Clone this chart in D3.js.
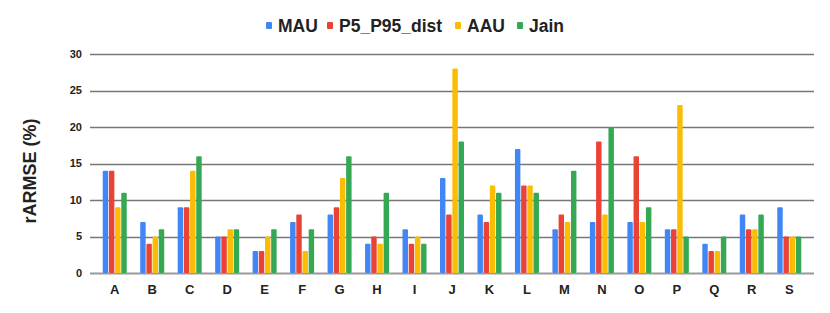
<!DOCTYPE html>
<html>
<head>
<meta charset="utf-8">
<script src="https://cdn.jsdelivr.net/npm/d3@7.9.0/dist/d3.min.js"></script>
<style>
  body { margin: 0; background: #fff; }
  svg { display: block; font-family: "Liberation Sans", Arial, sans-serif; }
</style>
</head>
<body>
<svg id="chart" width="830" height="313"></svg>
<script>
// data
const categories = ["A","B","C","D","E","F","G","H","I","J","K","L","M","N","O","P","Q","R","S"];
const seriesNames = ["MAU", "P5_P95_dist", "AAU", "Jain"];
const mau   = [14, 7, 9, 5, 3, 7, 8, 4, 6, 13, 8, 17, 6, 7, 7, 6, 4, 8, 9];
const p5p95 = [14, 4, 9, 5, 3, 8, 9, 5, 4, 8, 7, 12, 8, 18, 16, 6, 3, 6, 5];
const aau   = [9, 5, 14, 6, 5, 3, 13, 4, 5, 28, 12, 12, 7, 8, 7, 23, 3, 6, 5];
const jain  = [11, 6, 16, 6, 6, 6, 16, 11, 4, 18, 11, 11, 14, 20, 9, 5, 5, 8, 5];
const yTicks = [0, 5, 10, 15, 20, 25, 30];
const colors = ["#4285F4", "#EA4335", "#FBBC04", "#34A853"];

const allSeries = [mau, p5p95, aau, jain];
const rows = categories.map((c, i) => ({ cat: c, vals: allSeries.map(s => s[i]) }));

const svg = d3.select("#chart");

const x0 = d3.scaleBand().domain(categories).range([96, 808]);
const groupW = 24;
const x1 = d3.scaleBand().domain(seriesNames).range([0, groupW]).paddingInner(0.12);
const y = d3.scaleLinear().domain([0, 30]).range([273, 54]);

// gridlines
svg.append("g")
  .selectAll("line")
  .data(yTicks)
  .enter()
  .append("line")
  .attr("x1", 90).attr("x2", 814)
  .attr("y1", d => Math.round(y(d)) + 0.5)
  .attr("y2", d => Math.round(y(d)) + 0.5)
  .attr("stroke", d => d === 0 ? "#999" : "#777")
  .attr("stroke-width", d => d === 0 ? 2 : 1.3);

// y tick labels
svg.append("g")
  .selectAll("text")
  .data(yTicks)
  .enter()
  .append("text")
  .attr("x", 82)
  .attr("y", d => y(d))
  .attr("dy", "0.35em")
  .attr("text-anchor", "end")
  .attr("font-size", 11)
  .attr("font-weight", "bold")
  .attr("fill", "#222")
  .text(d => d);

// bars
const groups = svg.append("g")
  .selectAll("g")
  .data(rows)
  .enter()
  .append("g")
  .attr("transform", d => `translate(${x0(d.cat) + (x0.bandwidth() - groupW) / 2},0)`);

groups.selectAll("rect")
  .data(d => d.vals.map((v, k) => ({ key: seriesNames[k], v: v, k: k })))
  .enter()
  .append("rect")
  .attr("x", d => x1(d.key))
  .attr("y", d => y(d.v))
  .attr("width", x1.bandwidth())
  .attr("height", d => y(0) - y(d.v))
  .attr("rx", 1)
  .attr("fill", d => colors[d.k]);

// x labels
svg.append("g")
  .selectAll("text")
  .data(categories)
  .enter()
  .append("text")
  .attr("x", d => x0(d) + x0.bandwidth() / 2)
  .attr("y", 289)
  .attr("dy", "0.35em")
  .attr("text-anchor", "middle")
  .attr("font-size", 13)
  .attr("font-weight", "bold")
  .attr("fill", "#222")
  .text(d => d);

// y title
svg.append("text")
  .attr("transform", "translate(30,171) rotate(-90)")
  .attr("text-anchor", "middle")
  .attr("dy", "0.35em")
  .attr("font-size", 18)
  .attr("font-weight", "bold")
  .attr("fill", "#222")
  .text("rARMSE (%)");

// legend
const legendX = [266, 327, 455, 517];
const legend = svg.append("g")
  .selectAll("g")
  .data(seriesNames)
  .enter()
  .append("g")
  .attr("transform", (d, i) => `translate(${legendX[i]},26)`);
legend.append("rect")
  .attr("x", 0).attr("y", -4)
  .attr("width", 6).attr("height", 7)
  .attr("rx", 1)
  .attr("fill", (d, i) => colors[i]);
legend.append("text")
  .attr("x", 12)
  .attr("dy", "0.35em")
  .attr("font-size", 17.5)
  .attr("font-weight", "bold")
  .attr("fill", "#222")
  .text(d => d);
</script>
</body>
</html>
